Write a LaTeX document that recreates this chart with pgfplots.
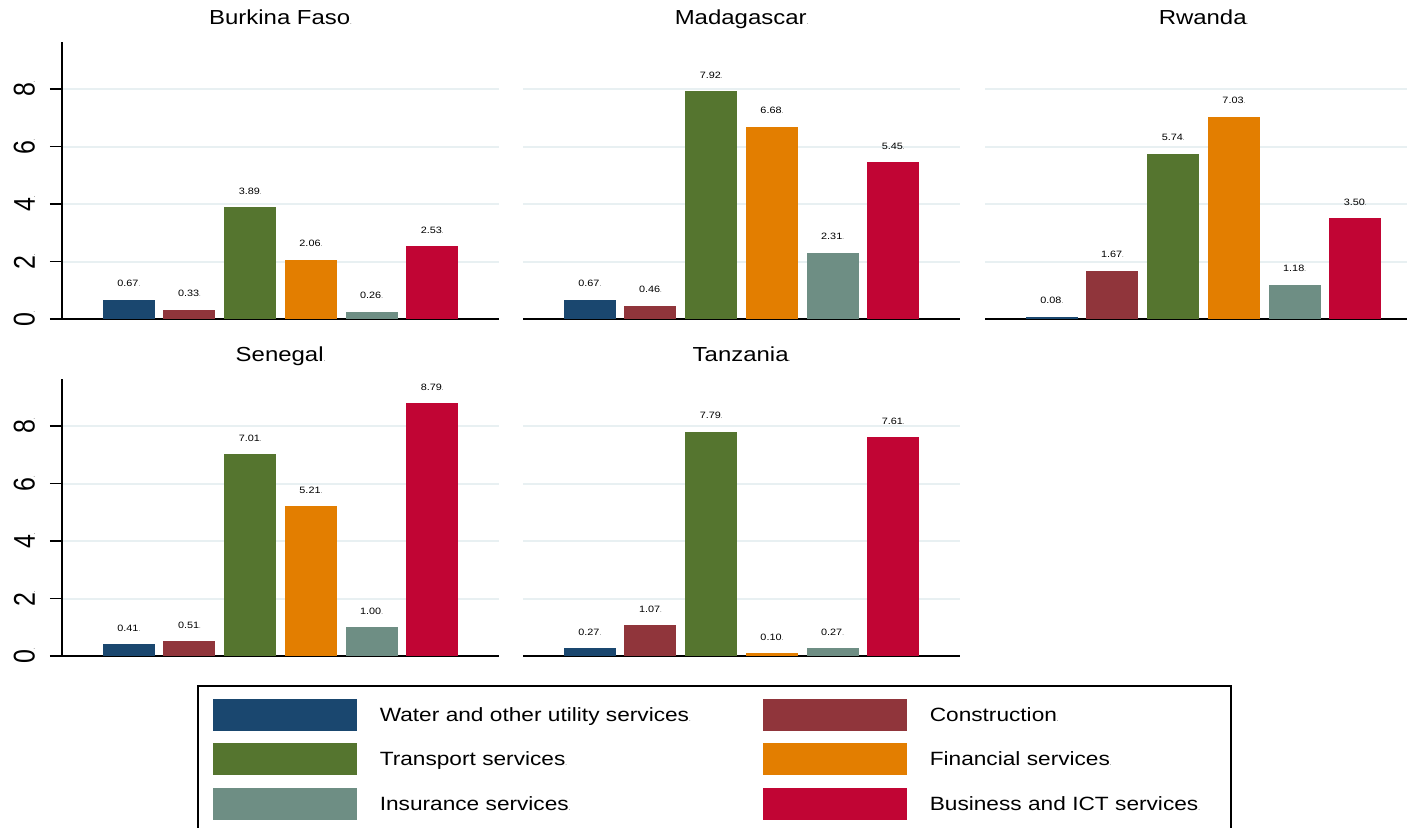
\documentclass[border=0pt]{standalone}
\usepackage{pgfplots}
\pgfplotsset{compat=1.18}
\usepackage{fontspec}
\setmainfont{Liberation Sans}[FakeStretch=1.18]
\newfontfamily\tickfont{Liberation Sans}

\definecolor{cwater}{RGB}{26,71,111}
\definecolor{ccons}{RGB}{144,53,59}
\definecolor{ctrans}{RGB}{85,117,47}
\definecolor{cfin}{RGB}{227,126,0}
\definecolor{cins}{RGB}{110,142,132}
\definecolor{cbus}{RGB}{193,5,52}
\definecolor{cgrid}{RGB}{232,240,242}

% the little trailing dots of the original export
\newcommand\dt{{\fontsize{5}{5}\selectfont.}}

\pgfplotsset{
  panel/.style={
    scale only axis, width=437pt, height=277.4pt,
    xmin=-0.1, xmax=7.1, ymin=0, ymax=9.65,
    ybar, bar width=0.857, bar shift=0pt,
    axis x line*=bottom, axis y line*=left,
    axis line style={line width=1.6pt, -},
    xtick=\empty,
    ytick={0,2,4,6,8},
    ymajorgrids, grid style={cgrid, line width=2pt},
    tick align=outside,
    major tick length=12pt,
    every tick/.style={black, line width=1.6pt},
    yticklabel style={rotate=90, anchor=south, inner sep=0pt, yshift=15pt},
    yticklabel={\scalebox{1}[1.2]{\tickfont\fontsize{25}{25}\selectfont\pgfmathprintnumber{\tick}\dt}},
    nodes near coords={\pgfmathprintnumber[fixed,fixed zerofill,precision=2]{\pgfplotspointmeta}\dt},
    every node near coord/.append style={font=\fontsize{9.2}{11}\selectfont, black, yshift=9.5pt},
    title style={font=\fontsize{20.3}{24}\selectfont, anchor=base, at={(0.5,1)}, yshift=11pt},
    /pgf/number format/assume math mode=true,
  },
  noy/.style={y axis line style={draw=none}, ytick style={draw=none},
    yticklabel={\mbox{}}},
  bw/.style={fill=cwater, draw=none},
  bc/.style={fill=ccons, draw=none},
  bt/.style={fill=ctrans, draw=none},
  bf/.style={fill=cfin, draw=none},
  bi/.style={fill=cins, draw=none},
  bb/.style={fill=cbus, draw=none},
  leg/.style={legend image code/.code={\fill[##1] (0pt,-16pt) rectangle (144pt,16pt); \path (167pt,0pt);}},
}

\begin{document}
\begin{tikzpicture}

% row 1
\begin{axis}[panel, at={(62pt,508pt)}, anchor=south west, title={Burkina Faso\dt}]
\addplot[bw] coordinates {(1,0.67)};
\addplot[bc] coordinates {(2,0.33)};
\addplot[bt] coordinates {(3,3.89)};
\addplot[bf] coordinates {(4,2.06)};
\addplot[bi] coordinates {(5,0.26)};
\addplot[bb] coordinates {(6,2.53)};
\end{axis}

\begin{axis}[panel, noy, at={(523pt,508pt)}, anchor=south west, title={Madagascar\dt}]
\addplot[bw] coordinates {(1,0.67)};
\addplot[bc] coordinates {(2,0.46)};
\addplot[bt] coordinates {(3,7.92)};
\addplot[bf] coordinates {(4,6.68)};
\addplot[bi] coordinates {(5,2.31)};
\addplot[bb] coordinates {(6,5.45)};
\end{axis}

\begin{axis}[panel, noy, at={(985pt,508pt)}, anchor=south west, title={Rwanda\dt}]
\addplot[bw] coordinates {(1,0.08)};
\addplot[bc] coordinates {(2,1.67)};
\addplot[bt] coordinates {(3,5.74)};
\addplot[bf] coordinates {(4,7.03)};
\addplot[bi] coordinates {(5,1.18)};
\addplot[bb] coordinates {(6,3.50)};
\end{axis}

% row 2
\begin{axis}[panel, at={(62pt,171pt)}, anchor=south west, title={Senegal\dt}]
\addplot[bw] coordinates {(1,0.41)};
\addplot[bc] coordinates {(2,0.51)};
\addplot[bt] coordinates {(3,7.01)};
\addplot[bf] coordinates {(4,5.21)};
\addplot[bi] coordinates {(5,1.00)};
\addplot[bb] coordinates {(6,8.79)};
\end{axis}

\begin{axis}[panel, noy, at={(523pt,171pt)}, anchor=south west, title={Tanzania\dt},
  legend columns=2,
  legend cell align=left,
  legend style={at={(-0.746,-0.1045)}, anchor=north west,
    draw=black, line width=1.6pt, inner xsep=15pt, inner ysep=13pt,
    font=\fontsize{19.2}{22}\selectfont,
    nodes={inner sep=0pt, text width=286pt, align=left},
    row sep=12.5pt,
    /tikz/column 2/.style={nodes={text width=383pt}}},
  legend entries={Water and other utility services\dt, Construction\dt,
    Transport services\dt, Financial services\dt,
    Insurance services\dt, Business and ICT services\dt}]
\addplot[bw, leg] coordinates {(1,0.27)};
\addplot[bc, leg] coordinates {(2,1.07)};
\addplot[bt, leg] coordinates {(3,7.79)};
\addplot[bf, leg] coordinates {(4,0.10)};
\addplot[bi, leg] coordinates {(5,0.27)};
\addplot[bb, leg] coordinates {(6,7.61)};
\end{axis}

\pgfresetboundingbox
\useasboundingbox (0pt,0pt) rectangle (1407pt,827pt);
\end{tikzpicture}
\end{document}
